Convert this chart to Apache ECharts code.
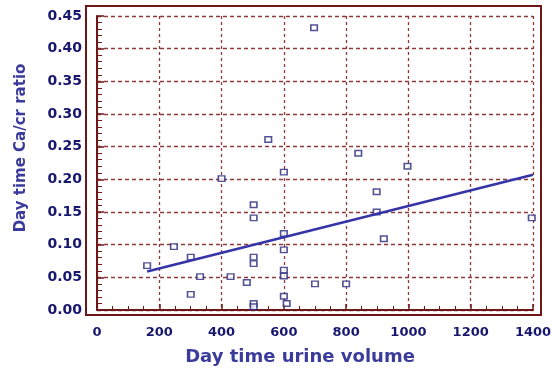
<!DOCTYPE html>
<html>
<head>
<meta charset="utf-8">
<style>
  html, body { margin: 0; padding: 0; background: #ffffff; }
  #chart { width: 558px; height: 372px; }
</style>
<script src="https://cdn.jsdelivr.net/npm/echarts@6/dist/echarts.min.js"></script>
</head>
<body>
<div id="chart"></div>
<script>
// Day time urine volume (x) and Day time Ca/cr ratio (y)
var volume = [697, 550, 839, 997, 400, 600, 898, 503, 503, 898, 1396, 600, 921,
              161, 247, 301, 503, 503, 600, 331, 429, 481, 600, 600, 700, 800,
              301, 503, 503, 600, 609];
var ratio  = [0.432, 0.261, 0.240, 0.220, 0.201, 0.211, 0.181, 0.161, 0.141, 0.150, 0.141, 0.117, 0.109,
              0.068, 0.097, 0.081, 0.081, 0.071, 0.092, 0.051, 0.051, 0.042, 0.061, 0.052, 0.040, 0.040,
              0.024, 0.010, 0.005, 0.021, 0.010];
// Regression line end points
var fitX = [161, 1400];
var fitY = [0.059, 0.207];
// Axis ranges / ticks
var xTicks = [0, 200, 400, 600, 800, 1000, 1200, 1400];
var yTicks = [0.00, 0.05, 0.10, 0.15, 0.20, 0.25, 0.30, 0.35, 0.40, 0.45];
var xName = 'Day time urine volume';
var yName = 'Day time Ca/cr ratio';

var frameColor = '#6f1717';
var gridColor = '#8e3a3a';
var labelColor = '#17176f';
var titleColor = '#3b3b9c';
var markColor = '#27277a';

var chart = echarts.init(document.getElementById('chart'), null, { renderer: 'canvas' });
chart.setOption({
  animation: false,
  backgroundColor: '#ffffff',
  grid: [
    { left: 86, top: 6, width: 455, height: 309, show: true,
      borderColor: frameColor, borderWidth: 2, backgroundColor: 'transparent' },
    { left: 97, top: 16, width: 436, height: 294 }
  ],
  xAxis: [
    { gridIndex: 0, type: 'value', show: false, min: 0, max: 1 },
    { gridIndex: 1, type: 'value', min: xTicks[0], max: xTicks[xTicks.length - 1], interval: 200,
      position: 'bottom', offset: 5,
      axisLine: { show: true, lineStyle: { color: frameColor, width: 2 } },
      axisTick: { show: true, inside: true, length: 6, lineStyle: { color: frameColor, width: 1.5 } },
      minorTick: { show: true, splitNumber: 4, length: 4, lineStyle: { color: frameColor, width: 1 } },
      axisLabel: { color: labelColor, fontFamily: 'DejaVu Sans', fontWeight: 'bold', fontSize: 13, margin: 11,
                   formatter: function (v) { return String(v); } },
      splitLine: { show: true, lineStyle: { color: gridColor, width: 1.3, type: [3, 3] } },
      name: xName, nameLocation: 'middle', nameGap: 33,
      nameTextStyle: { color: titleColor, fontFamily: 'DejaVu Sans', fontWeight: 'bold', fontSize: 18,
                       padding: [0, 30, 0, 0] }
    }
  ],
  yAxis: [
    { gridIndex: 0, type: 'value', show: false, min: 0, max: 1 },
    { gridIndex: 1, type: 'value', min: yTicks[0], max: yTicks[yTicks.length - 1], interval: 0.05,
      position: 'left', offset: 11,
      axisLine: { show: true, lineStyle: { color: frameColor, width: 2 } },
      axisTick: { show: true, inside: true, length: 7, lineStyle: { color: frameColor, width: 1.5 } },
      minorTick: { show: true, splitNumber: 5, length: 5, lineStyle: { color: frameColor, width: 1 } },
      axisLabel: { color: labelColor, fontFamily: 'DejaVu Sans', fontWeight: 'bold', fontSize: 14, margin: 4,
                   formatter: function (v) { return v.toFixed(2); } },
      splitLine: { show: true, lineStyle: { color: gridColor, width: 1.3, type: [4, 3] } },
      name: yName, nameLocation: 'middle', nameGap: 57, nameRotate: 90,
      nameTextStyle: { color: titleColor, fontFamily: 'DejaVu Sans', fontWeight: 'bold', fontSize: 15,
                       padding: [0, 0, 0, 30] }
    }
  ],
  series: [
    { type: 'scatter', xAxisIndex: 1, yAxisIndex: 1,
      data: volume.map(function (v, i) { return [v, ratio[i]]; }),
      symbol: 'rect', symbolSize: [6.5, 5.5],
      itemStyle: { color: '#ffffff', borderColor: markColor, borderWidth: 1.5 },
      z: 3 },
    { type: 'line', xAxisIndex: 1, yAxisIndex: 1,
      data: fitX.map(function (v, i) { return [v, fitY[i]]; }),
      showSymbol: false, symbol: 'none',
      lineStyle: { color: '#3434a8', width: 2.5 },
      z: 4 }
  ]
});
</script>
</body>
</html>
